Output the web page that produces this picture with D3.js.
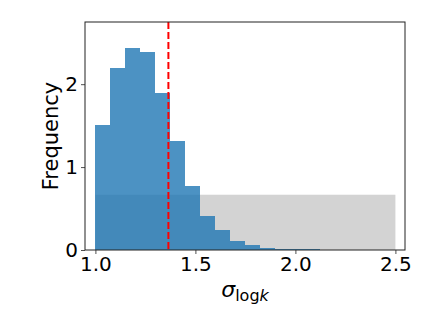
<!DOCTYPE html>
<html>
<head>
<meta charset="utf-8">
<script src="https://cdn.jsdelivr.net/npm/d3@7"></script>
<style>
  body { margin: 0; background: #fff; }
  text { font-family: "DejaVu Sans", sans-serif; fill: #000; }
</style>
</head>
<body>
<div id="chart"></div>
<script>
// histogram of sigma_logk, bins of width 0.075 from 1.0 to 2.5
var binStart = 1.0;
var binWidth = 0.075;
var freqs = [1.506, 2.197, 2.434, 2.386, 1.892, 1.313, 0.771, 0.41, 0.241, 0.108,
             0.06, 0.024, 0.014, 0.011, 0.008, 0, 0, 0, 0, 0];
// uniform prior on [1, 2.5]
var prior = [1.0, 2.5];
var priorHeight = 1 / 1.5;
var refValue = 1.365;
var xTicks = [1.0, 1.5, 2.0, 2.5];
var yTicks = [0, 1, 2];

var width = 432, height = 324;
var margin = {left: 85, right: 27, top: 22, bottom: 74};

var svg = d3.select("#chart").append("svg")
  .attr("width", width)
  .attr("height", height);

var x = d3.scaleLinear().domain([0.948, 2.548]).range([margin.left, width - margin.right]);
var y = d3.scaleLinear().domain([0, 2.75]).range([height - margin.bottom, margin.top]);

// prior box
svg.append("rect")
  .attr("x", x(prior[0]))
  .attr("y", y(priorHeight))
  .attr("width", x(prior[1]) - x(prior[0]))
  .attr("height", y(0) - y(priorHeight))
  .attr("fill", "#d3d3d3");

// histogram bars
svg.selectAll("rect.bar")
  .data(freqs)
  .enter()
  .append("rect")
    .attr("class", "bar")
    .attr("x", function(d, i) { return x(binStart + i * binWidth); })
    .attr("y", function(d) { return y(d); })
    .attr("width", function(d, i) { return x(binStart + (i + 1) * binWidth) - x(binStart + i * binWidth); })
    .attr("height", function(d) { return y(0) - y(d); })
    .attr("fill", "#1f77b4")
    .attr("fill-opacity", 0.8)
    .attr("shape-rendering", "crispEdges");

// red dashed line
svg.append("line")
  .attr("x1", x(refValue)).attr("x2", x(refValue))
  .attr("y1", y.range()[1]).attr("y2", y.range()[0])
  .attr("stroke", "red")
  .attr("stroke-width", 2)
  .attr("stroke-dasharray", "7,3");

// axes
var xAxis = d3.axisBottom(x).tickValues(xTicks).tickFormat(d3.format(".1f")).tickSizeOuter(0).tickSize(4).tickPadding(3);
var yAxis = d3.axisLeft(y).tickValues(yTicks).tickFormat(d3.format("d")).tickSizeOuter(0).tickSize(4).tickPadding(3);

var gx = svg.append("g")
  .attr("transform", "translate(0," + y(0) + ")")
  .call(xAxis);
var gy = svg.append("g")
  .attr("transform", "translate(" + margin.left + ",0)")
  .call(yAxis);
[gx, gy].forEach(function(g) {
  g.selectAll("text").style("font-size", "20px").style("font-family", "DejaVu Sans");
  g.selectAll("line").attr("stroke", "#222").attr("stroke-width", 0.8);
  g.select(".domain").remove();
});

// frame
svg.append("rect")
  .attr("x", margin.left).attr("y", margin.top)
  .attr("width", width - margin.left - margin.right)
  .attr("height", height - margin.top - margin.bottom)
  .attr("fill", "none")
  .attr("stroke", "#222")
  .attr("stroke-width", 1);

// labels
svg.append("text")
  .attr("transform", "translate(58," + ((margin.top + height - margin.bottom) / 2) + ") rotate(-90)")
  .attr("text-anchor", "middle")
  .style("font-size", "21px")
  .text("Frequency");

var xl = svg.append("text")
  .attr("x", (margin.left + width - margin.right) / 2)
  .attr("y", 297)
  .attr("text-anchor", "middle")
  .style("font-size", "22px");
xl.append("tspan").style("font-style", "italic").text("σ");
xl.append("tspan").attr("dy", 4).style("font-size", "16px").text("log");
xl.append("tspan").style("font-size", "16px").style("font-style", "italic").text("k");
</script>
</body>
</html>
